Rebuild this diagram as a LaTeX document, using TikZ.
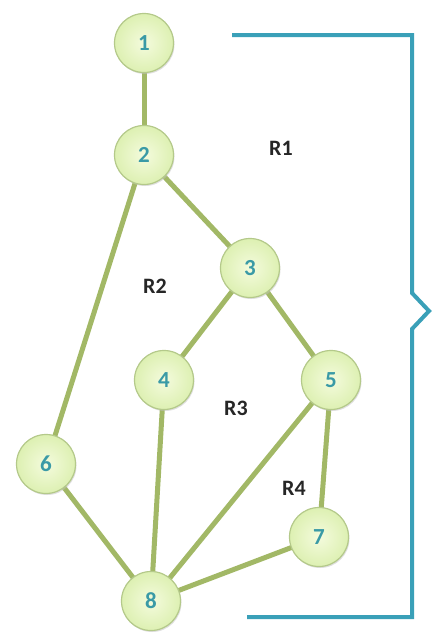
\documentclass[tikz,border=0pt]{standalone}
\usepackage{fontspec}
\setmainfont{Carlito}
\usetikzlibrary{shadows}
\definecolor{edgegreen}{HTML}{A2B866}
\definecolor{rimgreen}{HTML}{B4C98A}
\definecolor{innergreen}{HTML}{F4FBDD}
\definecolor{outergreen}{HTML}{DDF0B2}
\definecolor{numteal}{HTML}{3A9AA6}
\definecolor{braceteal}{HTML}{3AA0B8}
\tikzset{
  vertex/.style={circle, minimum size=59pt, inner sep=0pt, draw=rimgreen, line width=1.2pt,
    inner color=innergreen, outer color=outergreen,
    drop shadow={shadow xshift=1pt, shadow yshift=-1.5pt, fill=black!25, opacity=0.5},
    font=\bfseries\fontsize{23}{23}\selectfont, text=numteal},
  link/.style={draw=edgegreen, line width=5pt},
  region/.style={font=\bfseries\fontsize{22}{22}\selectfont, text=black!85},
  bracket/.style={draw=braceteal, line width=4pt}
}
\begin{document}
\begin{tikzpicture}[x=1pt, y=-1pt]
\useasboundingbox (0,0) rectangle (432,635);
% edges first, so the circles sit on top
\coordinate (p1) at (144,43);
\coordinate (p2) at (144,155);
\coordinate (p3) at (250,268);
\coordinate (p4) at (164,380);
\coordinate (p5) at (331,380);
\coordinate (p6) at (46,464);
\coordinate (p7) at (319,537);
\coordinate (p8) at (151,601);
\foreach \a/\b in {1/2,2/3,2/6,3/4,3/5,4/8,5/8,5/7,6/8,7/8}
  \draw[link] (p\a) -- (p\b);
% vertices
\foreach \i in {1,...,8}
  \node[vertex] (n\i) at (p\i) {\i};
% region labels
\node[region] (r1) at (281,148) {R1};
\node[region] (r2) at (155,286) {R2};
\node[region] (r3) at (236,408) {R3};
\node[region] (r4) at (294,488) {R4};
% right-hand bracket
\coordinate (bt) at (232,35);
\coordinate (bb) at (247,617);
\draw[bracket, line join=miter] (bt) -- (412,35) -- (412,293) -- (429,311) -- (412,329) -- (412,617) -- (bb);
\end{tikzpicture}
\end{document}
